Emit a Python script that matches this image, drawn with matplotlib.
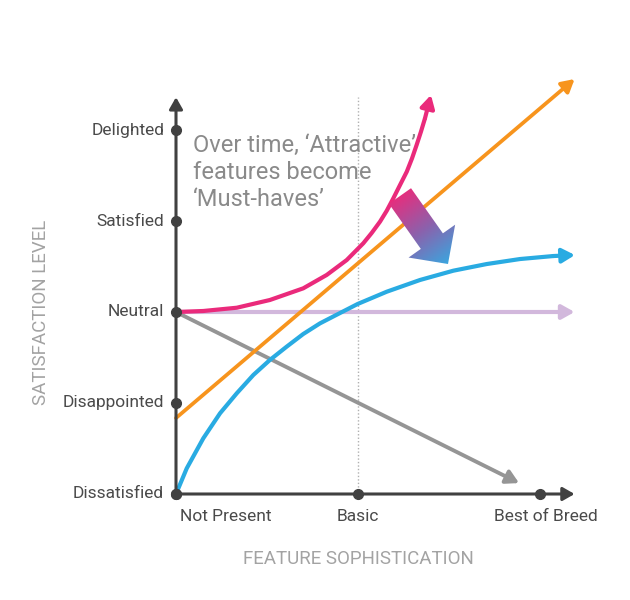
"""
Kano model chart
Output: out.png
"""

import matplotlib.pyplot as plt
import numpy as np
from matplotlib.patches import Polygon
from matplotlib.colors import LinearSegmentedColormap

# ==================== DATA ====================
y_levels = ['Dissatisfied', 'Disappointed', 'Neutral', 'Satisfied', 'Delighted']
x_levels = ['Not Present', 'Basic', 'Best of Breed']

# attractive (pink)
pink_x = [0.0, 0.150, 0.334, 0.516, 0.699, 0.828, 0.938, 1.029, 1.075, 1.121,
          1.158, 1.194, 1.231, 1.268, 1.297, 1.322, 1.346, 1.368, 1.401]
pink_y = [2.0, 2.011, 2.047, 2.132, 2.260, 2.407, 2.571, 2.755, 2.868, 2.993,
          3.113, 3.249, 3.396, 3.542, 3.689, 3.835, 3.982, 4.128, 4.385]

# performance (orange)
orange_x = [0.0, 2.19]
orange_y = [0.835, 4.56]

# must-be (blue)
blue_x = [0.0, 0.059, 0.150, 0.242, 0.334, 0.425, 0.516, 0.608, 0.699, 0.791,
          0.883, 0.998, 1.158, 1.341, 1.524, 1.707, 1.890, 2.073, 2.192]
blue_y = [0.0, 0.282, 0.612, 0.887, 1.107, 1.308, 1.473, 1.619, 1.758, 1.875,
          1.970, 2.088, 2.223, 2.352, 2.454, 2.527, 2.582, 2.615, 2.626]

# indifferent (lavender) and reverse (gray)
lav_x = [0.0, 2.19]
lav_y = [2.0, 2.0]
gray_x = [0.0, 1.885]
gray_y = [2.0, 0.12]

x_axis_end = 2.19
y_axis_end = 4.36

note = "Over time, \u2018Attractive\u2019\nfeatures become\n\u2018Must-haves\u2019"

# ==================== STYLE ====================
AXIS_C = '#414141'
PINK = '#ea2a7b'
ORANGE = '#f7941d'
BLUE = '#29abe2'
LAV = '#d2b8dc'
GRAY = '#959595'
FONT = ['Roboto', 'DejaVu Sans']

fig = plt.figure(figsize=(6.3, 6.0), dpi=100)
ax = fig.add_axes([0, 0, 1, 1])
# 182 px per x unit, 91 px per y unit, origin at pixel (176, 494)
ax.set_xlim(-176 / 182, (630 - 176) / 182)
ax.set_ylim((494 - 600) / 91, 494 / 91)
ax.axis('off')


def arrow_line(xs, ys, color, lw, z, hl=0.75, hw=0.42):
    ax.plot(xs[:-1], ys[:-1], color=color, lw=lw, zorder=z,
            solid_capstyle='butt', solid_joinstyle='round')
    ax.annotate('', xy=(xs[-1], ys[-1]), xytext=(xs[-2], ys[-2]),
                arrowprops=dict(arrowstyle=f'-|>,head_length={hl},head_width={hw}',
                                color=color, lw=lw, shrinkA=0, shrinkB=0),
                zorder=z)


# basic guide
ax.plot([1, 1], [0, y_axis_end], color='#b0b0b0', lw=1, ls=(0, (1, 1.5)), zorder=1)

arrow_line(lav_x, lav_y, LAV, 3, 2)
arrow_line(gray_x, gray_y, GRAY, 2.8, 3)
arrow_line(orange_x, orange_y, ORANGE, 2.7, 4)
arrow_line(blue_x, blue_y, BLUE, 3, 5)
arrow_line(pink_x, pink_y, PINK, 3, 6)

# axes with arrows
arrow_line([0, 0], [0, y_axis_end], AXIS_C, 2.2, 7, 0.7, 0.4)
arrow_line([0, x_axis_end], [0, 0], AXIS_C, 2.2, 7, 0.7, 0.4)

ax.plot(np.zeros(len(y_levels)), np.arange(len(y_levels)), 'o', color=AXIS_C,
        ms=7, zorder=8)
ax.plot(np.arange(len(x_levels)), np.zeros(len(x_levels)), 'o', color=AXIS_C,
        ms=7, zorder=8)

for i, lab in enumerate(y_levels):
    ax.text(-0.065, i, lab, ha='right', va='center', fontsize=12.5,
            color='#4a4a4a', family=FONT)

ax.text(0.02, -0.16, x_levels[0], ha='left', va='top', fontsize=12.5,
        color='#4a4a4a', family=FONT)
ax.text(1, -0.16, x_levels[1], ha='center', va='top', fontsize=12.5,
        color='#4a4a4a', family=FONT)
ax.text(2.03, -0.16, x_levels[2], ha='center', va='top', fontsize=12.5,
        color='#4a4a4a', family=FONT)

ax.text(1.0, -0.71, 'FEATURE SOPHISTICATION', ha='center', va='center',
        fontsize=13.5, color='#a3a3a3', family=FONT)
ax.text(-0.742, 2.0, 'SATISFACTION LEVEL', ha='center', va='center',
        rotation=90, fontsize=13.5, color='#a3a3a3', family=FONT)

ax.text(0.093, 3.96, note, ha='left', va='top', fontsize=17, color='#8a8a8a',
        family=FONT, linespacing=1.24, zorder=9)

# ==================== GRADIENT ARROW ====================
# arrow from (400,196) px to (448,264) px, in data units
start = np.array([(400 - 176) / 182, (494 - 196) / 91])
end = np.array([(448 - 176) / 182, (494 - 264) / 91])
p0 = ax.transData.transform(start)
p1 = ax.transData.transform(end)
d = p1 - p0
L = np.hypot(*d)
u = d / L
n = np.array([-u[1], u[0]])
shaft_w, head_w, head_l = 27 / 2, 57 / 2, 28
b = p1 - u * head_l
pts = np.array([p0 + n * shaft_w, b + n * shaft_w, b + n * head_w, p1,
                b - n * head_w, b - n * shaft_w, p0 - n * shaft_w])
pts_data = ax.transData.inverted().transform(pts)
poly = Polygon(pts_data, closed=True, fc='none', ec='none')
ax.add_patch(poly)

xmin, ymin = pts_data.min(axis=0)
xmax, ymax = pts_data.max(axis=0)
gx = np.linspace(xmin, xmax, 200)
gy = np.linspace(ymin, ymax, 200)
GX, GY = np.meshgrid(gx, gy)
disp = ax.transData.transform(np.column_stack([GX.ravel(), GY.ravel()]))
t = ((disp - p0) @ u / L).reshape(GX.shape)
cmap = LinearSegmentedColormap.from_list('kano', ['#e3307f', '#8a62ad', '#3aa6df'])
im = ax.imshow(t, extent=(xmin, xmax, ymin, ymax), origin='lower', cmap=cmap,
               vmin=0, vmax=1, aspect='auto', zorder=10, interpolation='bilinear')
im.set_clip_path(poly)

ax.set_xlim(-176 / 182, (630 - 176) / 182)
ax.set_ylim((494 - 600) / 91, 494 / 91)

fig.savefig('out.png', dpi=100, facecolor='white')
